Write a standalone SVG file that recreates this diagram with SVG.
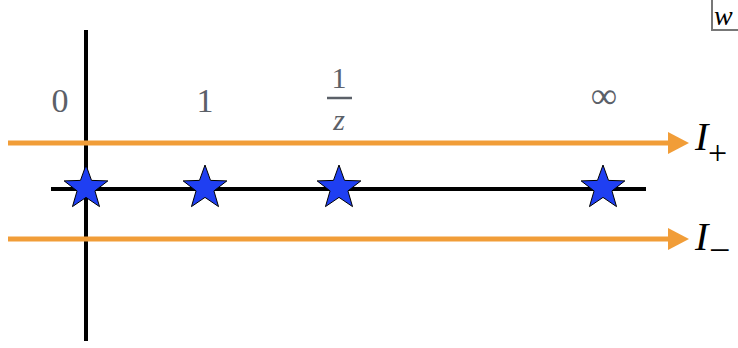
<svg xmlns="http://www.w3.org/2000/svg" width="738" height="348" viewBox="0 0 738 348">
<style>
.axis{stroke:#000;stroke-width:4;fill:none}
.orange{stroke:#f19d38;stroke-width:5;fill:none}
.head{fill:#f19d38}
.star{fill:#1f3ff2;stroke:#000;stroke-width:1}
.lbl{font-family:"Liberation Serif","Times New Roman",serif;fill:#5b6068;text-anchor:middle}
.math{font-family:"Liberation Serif","Times New Roman",serif;font-style:italic;fill:#000}
.sub{font-family:"Liberation Serif","Times New Roman",serif;fill:#000}
</style>
<defs>
<polygon id="star" class="star" points="0,-23 5.53,-7.6 21.87,-7.11 8.94,2.9 13.52,18.61 0,9.4 -13.52,18.61 -8.94,2.9 -21.87,-7.11 -5.53,-7.6"/>
</defs>
<rect width="738" height="348" fill="#fff"/>
<g id="axes">
<line class="axis" x1="86" y1="30" x2="86" y2="341"/>
<line class="axis" x1="51" y1="189" x2="646" y2="189"/>
</g>
<g id="connectors">
<line class="orange" x1="8" y1="143" x2="672" y2="143"/>
<polygon class="head" points="668,132 689,143 668,154"/>
<line class="orange" x1="8" y1="239" x2="672" y2="239"/>
<polygon class="head" points="668,228 689,239 668,250"/>
</g>
<g id="star-0"><use href="#star" x="86" y="188"/></g>
<g id="star-1"><use href="#star" x="205" y="188"/></g>
<g id="star-1z"><use href="#star" x="339" y="188"/></g>
<g id="star-inf"><use href="#star" x="603" y="188"/></g>
<g id="labels">
<text class="lbl" x="60" y="112" font-size="34">0</text>
<text class="lbl" x="205" y="112" font-size="34">1</text>
<text class="lbl" x="339" y="88" font-size="30">1</text>
<line x1="327" y1="98" x2="352" y2="98" stroke="#5b6068" stroke-width="2.5"/>
<text class="lbl" x="339" y="130" font-size="30" font-style="italic">z</text>
<text class="lbl" x="604" y="108" font-size="37">∞</text>
</g>
<g id="I-plus">
<text class="math" x="695" y="150" font-size="40">I</text>
<text class="sub" x="708" y="164" font-size="34">+</text>
</g>
<g id="I-minus">
<text class="math" x="695" y="250" font-size="40">I</text>
<text class="sub" x="709" y="263" font-size="38">−</text>
</g>
<g id="w-label">
<path d="M712,0 V30 H738" stroke="#777" stroke-width="2" fill="none"/>
<text class="math" x="714" y="25" font-size="28">w</text>
</g>
</svg>
